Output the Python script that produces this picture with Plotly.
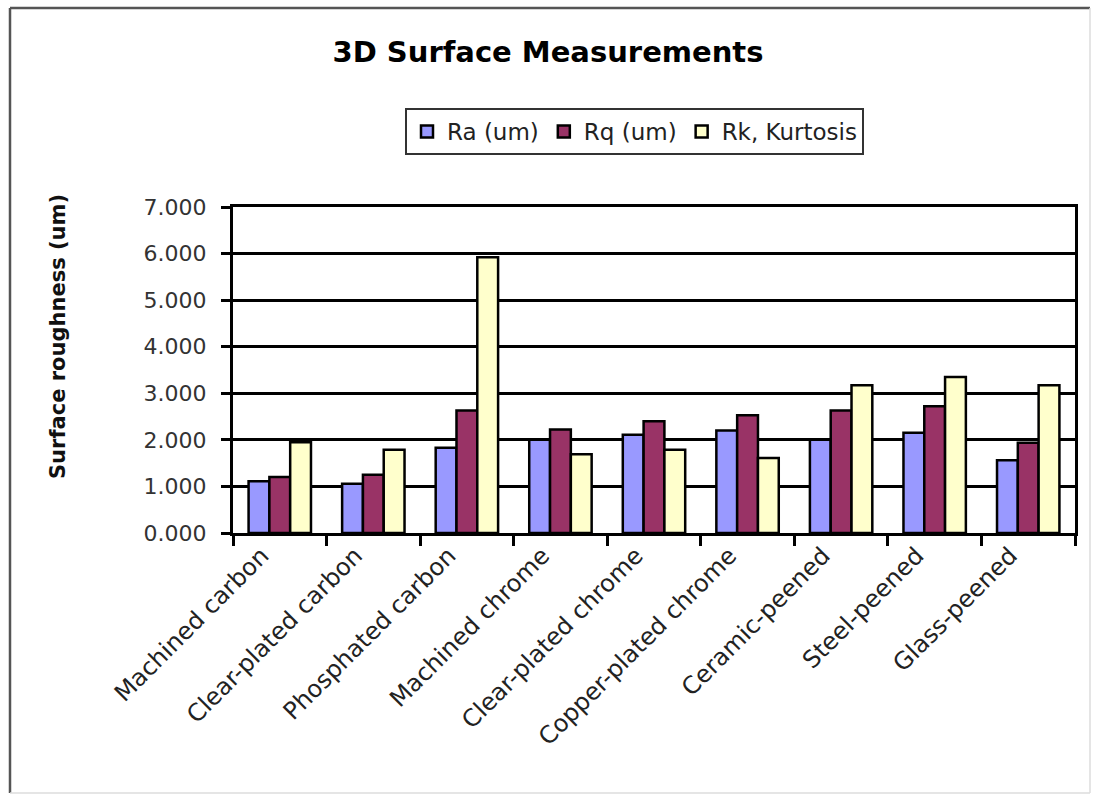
import plotly.graph_objects as go

# Surface finish measurements per sample treatment
categories = [
    "Machined carbon", "Clear-plated carbon", "Phosphated carbon",
    "Machined chrome", "Clear-plated chrome", "Copper-plated chrome",
    "Ceramic-peened", "Steel-peened", "Glass-peened",
]
ra_um = [1.11, 1.06, 1.83, 2.00, 2.11, 2.20, 2.00, 2.15, 1.56]
rq_um = [1.20, 1.25, 2.63, 2.22, 2.40, 2.53, 2.63, 2.72, 1.94]
rk_kurtosis = [1.95, 1.79, 5.92, 1.69, 1.79, 1.61, 3.17, 3.35, 3.17]

series = [
    ("Ra (um)", ra_um, "#9999FF"),
    ("Rq (um)", rq_um, "#993366"),
    ("Rk, Kurtosis", rk_kurtosis, "#FFFFCC"),
]

W, H = 1093, 801
L, R, T, B = 233, 18, 207, 268
PW, PH = W - L - R, H - T - B


def px_x(x):
    return (x - L) / PW


def px_y(y):
    return (H - B - y) / PH


FONT = "DejaVu Sans"

fig = go.Figure()
for name, vals, color in series:
    fig.add_trace(go.Bar(
        x=categories, y=vals, name=name,
        marker=dict(color=color, line=dict(color="#000000", width=2.5)),
    ))

fig.update_layout(
    width=W, height=H, autosize=False,
    margin=dict(l=L, r=R, t=T, b=B),
    paper_bgcolor="white", plot_bgcolor="white",
    barmode="group", bargap=0.333, bargroupgap=0,
    font=dict(family=FONT, size=21, color="#222222"),
    title=dict(
        text="3D Surface Measurements",
        font=dict(family=FONT, size=29, color="#000000", weight="bold"),
        xref="container", yref="container",
        x=548 / W, y=1 - 52 / H, xanchor="center", yanchor="middle",
    ),
    legend=dict(
        orientation="h",
        x=px_x(405), y=px_y(108), xanchor="left", yanchor="top",
        bordercolor="#333333", borderwidth=2, bgcolor="white",
        font=dict(family=FONT, size=23, color="#222222"),
    ),
    showlegend=True,
)

fig.update_xaxes(
    type="category",
    showline=True, linecolor="#000000", linewidth=3, mirror=True,
    ticks="outside", tickson="boundaries", ticklen=10, tickwidth=3,
    tickcolor="#000000", tickangle=-45,
    ticklabelshift=-18, ticklabelstandoff=-4,
    tickfont=dict(family=FONT, size=24, color="#222222"),
    showgrid=False,
)
fig.update_yaxes(
    range=[0, 7], dtick=1, tickformat=".3f",
    showline=True, linecolor="#000000", linewidth=3, mirror=True,
    ticks="outside", ticklen=9, tickwidth=3, tickcolor="#000000",
    ticklabelstandoff=10,
    tickfont=dict(family=FONT, size=22, color="#333333"),
    showgrid=True, gridcolor="#000000", gridwidth=2.5,
    zeroline=False,
)

# y-axis title
fig.add_annotation(
    text="Surface roughness (um)", textangle=-90,
    xref="paper", yref="paper", x=px_x(58), y=px_y(337),
    xanchor="center", yanchor="middle", showarrow=False,
    font=dict(family=FONT, size=21, color="#111111", weight="bold"),
)

# chart-area frame: darker top/left edges, faint right/bottom edges
x_left, x_right = px_x(10), px_x(1090)
y_top, y_bottom = px_y(8), px_y(793)
frame = [
    (x_left, y_top, x_right, y_top, "#555555", 2.5),
    (x_left, y_top, x_left, y_bottom, "#555555", 2.5),
    (x_right, y_top, x_right, y_bottom, "#dddddd", 1.5),
    (x_left, y_bottom, x_right, y_bottom, "#dddddd", 1.5),
]
for x0, y0, x1, y1, c, w in frame:
    fig.add_shape(type="line", xref="paper", yref="paper",
                  x0=x0, y0=y0, x1=x1, y1=y1,
                  line=dict(color=c, width=w), layer="above")

fig.write_html("out.html")
